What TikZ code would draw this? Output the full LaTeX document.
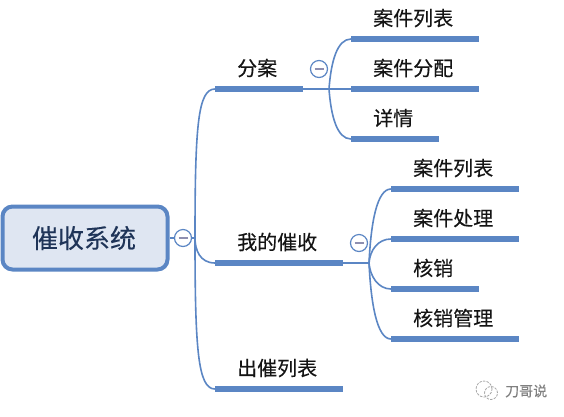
\documentclass[tikz,border=0pt]{standalone}
\usepackage{fontspec}
\setmainfont[FakeBold=0.25]{Noto Sans CJK SC}
\definecolor{barblue}{HTML}{5B86C4}
\definecolor{rootfill}{HTML}{DFE6F2}
\definecolor{rootink}{HTML}{1F3458}
\definecolor{minusmark}{HTML}{8E8FB0}
\begin{document}
\begin{tikzpicture}[x=1pt,y=-1pt,
  bar/.style={fill=barblue,inner sep=0pt,minimum height=5.5pt,anchor=west},
  lbl/.style={font=\fontsize{20}{20}\selectfont,text=black!92,inner sep=0pt,anchor=west},
  toggle/.style={circle,draw=barblue,line width=1.2pt,fill=white,minimum size=17pt,inner sep=0pt},
  link/.style={draw=barblue,line width=1.6pt},
  ]
\useasboundingbox (0,0) rectangle (564,416);
\fill[white] (0,0) rectangle (564,416);
% root
\node[draw=barblue,line width=4pt,rounded corners=10pt,fill=rootfill,minimum width=165pt,minimum height=63pt,inner sep=0pt,text=rootink,font=\fontsize{26}{26}\selectfont] (root) at (85,238) {\hspace{-2pt}催收系统};
% branch bars
\node[bar,minimum width=88pt] (fa) at (215,89) {};
\node[bar,minimum width=128pt] (wd) at (215,263) {};
\node[bar,minimum width=128pt] (cc) at (215,389) {};
\coordinate (j0) at (195,238);
\coordinate (j1) at (329,89);
\coordinate (j2) at (369,263);
% leaf bars
\node[bar,minimum width=128pt] (a1) at (351,39) {};
\node[bar,minimum width=128pt] (a2) at (351,89) {};
\node[bar,minimum width=88pt] (a3) at (351,139) {};
\node[bar,minimum width=128pt] (b1) at (391,189) {};
\node[bar,minimum width=128pt] (b2) at (391,239) {};
\node[bar,minimum width=88pt] (b3) at (391,289) {};
\node[bar,minimum width=128pt] (b4) at (391,339) {};
% connectors
\path[link] (root.east) -- (j0);
\path[link] (j0) .. controls (195,125) and (198,89) .. (fa.west);
\path[link] (j0) .. controls (195,250) and (200,263) .. (wd.west);
\path[link] (j0) .. controls (195,350) and (198,389) .. (cc.west);
\path[link] (fa.east) -- (j1);
\path[link] (j1) .. controls (331,62) and (337,39) .. (a1.west);
\path[link] (j1) -- (a2.west);
\path[link] (j1) .. controls (331,116) and (337,139) .. (a3.west);
\path[link] (wd.east) -- (j2);
\path[link] (j2) .. controls (371,222) and (377,189) .. (b1.west);
\path[link] (j2) .. controls (370,250) and (378,239) .. (b2.west);
\path[link] (j2) .. controls (370,276) and (378,289) .. (b3.west);
\path[link] (j2) .. controls (371,304) and (377,339) .. (b4.west);
% toggles
\node[toggle] (t0) at (183,238) {};
\node[toggle] (t1) at (319,69) {};
\node[toggle] (t2) at (359,243) {};
\foreach \t in {t0,t1,t2}
  \draw[line width=1.2pt,draw=minusmark] ([xshift=-4.5pt]\t.center) -- ([xshift=4.5pt]\t.center);
% labels
\node[lbl] (lfa) at (237,68) {分案};
\node[lbl] (lwd) at (237,242) {我的催收};
\node[lbl] (lcc) at (237,368) {出催列表};
\node[lbl] (la1) at (373,18) {案件列表};
\node[lbl] (la2) at (373,68) {案件分配};
\node[lbl] (la3) at (373,118) {详情};
\node[lbl] (lb1) at (413,168) {案件列表};
\node[lbl] (lb2) at (413,218) {案件处理};
\node[lbl] (lb3) at (413,268) {核销};
\node[lbl] (lb4) at (413,318) {核销管理};
% watermark
\draw[gray!70,line width=0.8pt,dash pattern=on 2.5pt off 1.2pt] (484,389) circle (8pt);
\draw[gray!70,line width=0.8pt,dash pattern=on 2.5pt off 1.2pt] (491,393) circle (6.5pt);
\node[font=\fontsize{14}{14}\selectfont,text=gray,inner sep=0pt,anchor=west] (wm) at (505,391) {刀哥说};
\end{tikzpicture}
\end{document}
